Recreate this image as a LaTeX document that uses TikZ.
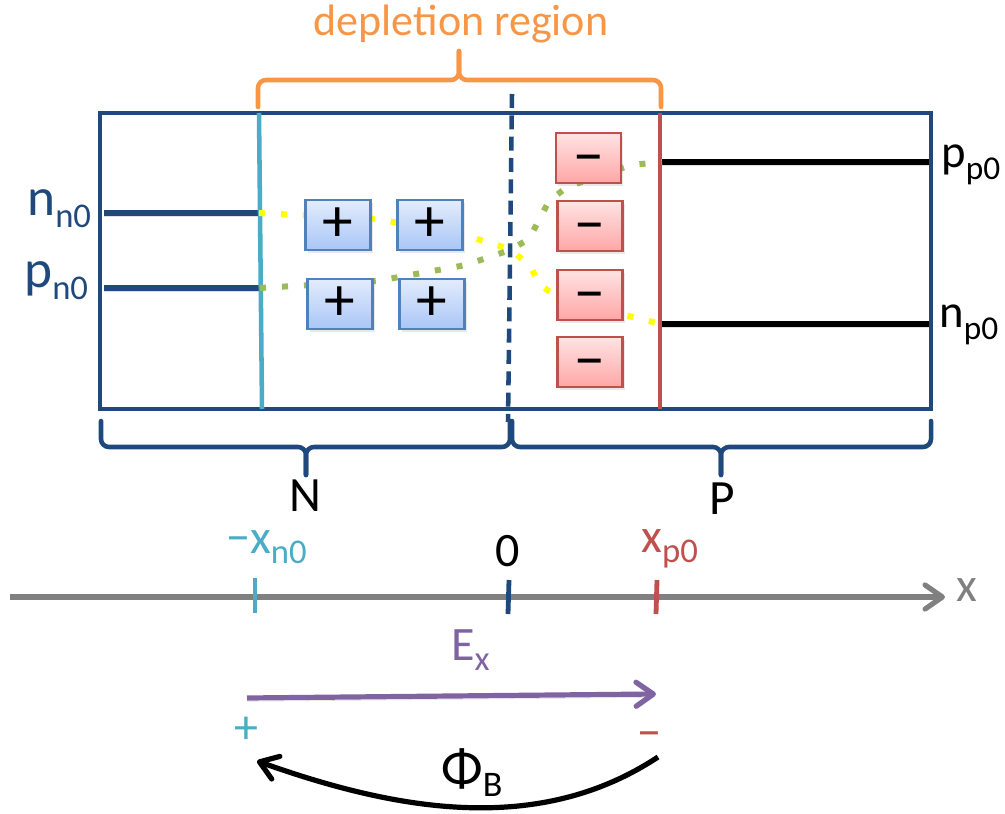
\documentclass[tikz,border=0pt]{standalone}
\usepackage{fontspec}
\setmainfont{Carlito}
\usetikzlibrary{arrows.meta,shadows}
\definecolor{dblue}{HTML}{1F497D}
\definecolor{cyanl}{HTML}{4BACC6}
\definecolor{redl}{HTML}{C0504D}
\definecolor{orangel}{HTML}{F79646}
\definecolor{purplel}{HTML}{8064A2}
\definecolor{grayl}{HTML}{808080}
\definecolor{greenl}{HTML}{9BBB59}
\definecolor{yellowl}{HTML}{FFFF00}
\definecolor{boxblue}{HTML}{4F81BD}
\definecolor{pbtop}{HTML}{E3ECFC}
\definecolor{pbbot}{HTML}{A9C6F7}
\definecolor{mbtop}{HTML}{FFE3E3}
\definecolor{mbbot}{HTML}{FFA6A6}
\newcommand{\fs}[1]{\fontsize{#1}{#1}\selectfont}
\newcommand{\sbs}[3]{\raisebox{-#1}{\fs{#2}#3}}
\newcommand{\mns}{\vphantom{+}\raisebox{-3pt}{−}}
\begin{document}
\begin{tikzpicture}[x=0.75pt,y=-0.75pt,
  frame/.style={dblue,line width=3.5pt},
  lvl/.style={line width=4pt,line cap=butt},
  dots/.style={line width=4.5pt,dash pattern=on 4.5pt off 12pt},
  brc/.style={line width=3.4pt,rounded corners=6pt,line cap=round},
  chargebox/.style={minimum width=48.75pt,minimum height=37.5pt,inner sep=0pt,line width=2pt,
     drop shadow={opacity=0.18,shadow xshift=1.5pt,shadow yshift=-2pt},font=\fs{46pt}},
  pbox/.style={chargebox,draw=boxblue,top color=pbtop,bottom color=pbbot},
  mbox/.style={chargebox,draw=redl,top color=mbtop,bottom color=mbbot},
  tip/.style={-{Straight Barb[length=13pt,width=18pt,round]}},
  lshadow/.style={preaction={draw=black,draw opacity=0.12,transform canvas={yshift=-2.5pt}}}
]
\useasboundingbox (0,0) rectangle (1005,813);

% coordinates
\coordinate (nnL) at (104,213);
\coordinate (nnR) at (259,213);
\coordinate (pnL) at (104,288);
\coordinate (pnR) at (260,288);
\coordinate (ppL) at (662,162);
\coordinate (ppR) at (929,162);
\coordinate (npL) at (662,324);
\coordinate (npR) at (929,324);
\coordinate (cyT) at (259,113);
\coordinate (cyB) at (262,409);
\coordinate (rdT) at (660,113);
\coordinate (rdB) at (660,409);
\coordinate (dsT) at (512,94);
\coordinate (dsB) at (508,422);

% frame
\draw[frame] (100,113) rectangle (931,409);

% level lines
\draw[lvl,dblue,lshadow] (nnL) -- (nnR);
\draw[lvl,dblue,lshadow] (pnL) -- (pnR);
\draw[lvl,black,lshadow] (ppL) -- (ppR);
\draw[lvl,black,lshadow] (npL) -- (npR);

% boundaries
\draw[cyanl,line width=3.4pt] (cyT) -- (cyB);
\draw[redl,line width=3.4pt] (rdT) -- (rdB);
\draw[dblue,line width=3.4pt,dash pattern=on 10.5pt off 5.5pt] (dsT) -- (dsB);

% dotted band paths
\draw[dots,yellowl] (nnR) -- (378,219) -- (467,236) -- (510,249) -- (530,266) -- (541,286) -- (560,298) -- (640,319) -- (npL);
\draw[dots,greenl] (pnR) -- (377,281) -- (466,265) -- (510,250) -- (529,239) -- (549,201) -- (567,187) -- (631,165) -- (ppL);

% charge boxes
\node[pbox] (p1) at (338,225) {+};
\node[pbox] (p2) at (430,225) {+};
\node[pbox] (p3) at (340,304) {+};
\node[pbox] (p4) at (432,304) {+};
\node[mbox] (m1) at (588.5,158) {\mns};
\node[mbox] (m2) at (590,226) {\mns};
\node[mbox] (m3) at (590,295) {\mns};
\node[mbox] (m4) at (590,362) {\mns};

% top brace
\draw[brc,orangel] (258,107) -- (258,80) -- (459,80) -- (459,51);
\draw[brc,orangel] (661,107) -- (661,80) -- (459,80) -- (459,51);
\node[text=orangel,font=\fs{33pt}] (dep) at (461,24) {depletion region};

% bottom braces
\draw[brc,dblue] (101,421) -- (101,447) -- (306,447) -- (306,475);
\draw[brc,dblue] (510,421) -- (510,447) -- (306,447) -- (306,475);
\draw[brc,dblue] (512,421) -- (512,447) -- (721,447) -- (721,475);
\draw[brc,dblue] (931,421) -- (931,447) -- (721,447) -- (721,475);
\node[font=\fs{37pt}] (N) at (305,496) {N};
\node[font=\fs{37pt}] (P) at (722,499) {P};

% side labels
\node[anchor=base west,inner sep=0pt,text=dblue,font=\fs{40pt}] (lnn) at (27,215) {n\sbs{9pt}{26pt}{n0}};
\node[anchor=base west,inner sep=0pt,text=dblue,font=\fs{40pt}] (lpn) at (24,287) {p\sbs{9pt}{26pt}{n0}};
\node[anchor=base west,inner sep=0pt,font=\fs{35pt}] (lpp) at (941,167) {p\sbs{9pt}{25pt}{p0}};
\node[anchor=base west,inner sep=0pt,font=\fs{35pt}] (lnp) at (939,327) {n\sbs{9pt}{25pt}{p0}};

% x axis
\coordinate (axL) at (10,597);
\coordinate (axR) at (945,597);
\draw[grayl,line width=3.9pt,tip] (axL) -- (axR);
\node[text=grayl,font=\fs{36pt}] (xl) at (967,590) {x};
\draw[cyanl,line width=3.6pt] (255,578) -- (255,613);
\draw[dblue,line width=3.6pt] (509,580) -- (508,614);
\draw[redl,line width=3.6pt] (657,580) -- (656,614);
\node[anchor=base west,inner sep=0pt,text=cyanl,font=\fs{36pt}] (lxn) at (226,553) {−x\sbs{8pt}{26pt}{n0}};
\node[font=\fs{36pt}] (zero) at (508,551) {0};
\node[anchor=base west,inner sep=0pt,text=redl,font=\fs{36pt}] (lxp) at (641,552) {x\sbs{8pt}{26pt}{p0}};

% field
\coordinate (eL) at (247,698);
\coordinate (eR) at (656,694);
\draw[purplel,line width=3.9pt,tip,lshadow] (eL) -- (eR);
\node[anchor=base west,inner sep=0pt,text=purplel,font=\fs{36pt}] (ex) at (451,660) {E\sbs{8pt}{26pt}{x}};
\node[text=cyanl,font=\fs{36pt}] (plus) at (246,730) {+};
\node[text=redl,font=\fs{36pt}] (minus) at (649,733) {\mns};

% barrier arrow
\coordinate (bR) at (658,757);
\coordinate (bL) at (257,761);
\draw[black,line width=3.9pt,tip] (bR) .. controls (540,835) and (400,812) .. (bL);
\node[anchor=base west,inner sep=0pt,font=\fs{41pt}] (phi) at (441,786) {Φ\sbs{8pt}{27pt}{B}};
\end{tikzpicture}
\end{document}
